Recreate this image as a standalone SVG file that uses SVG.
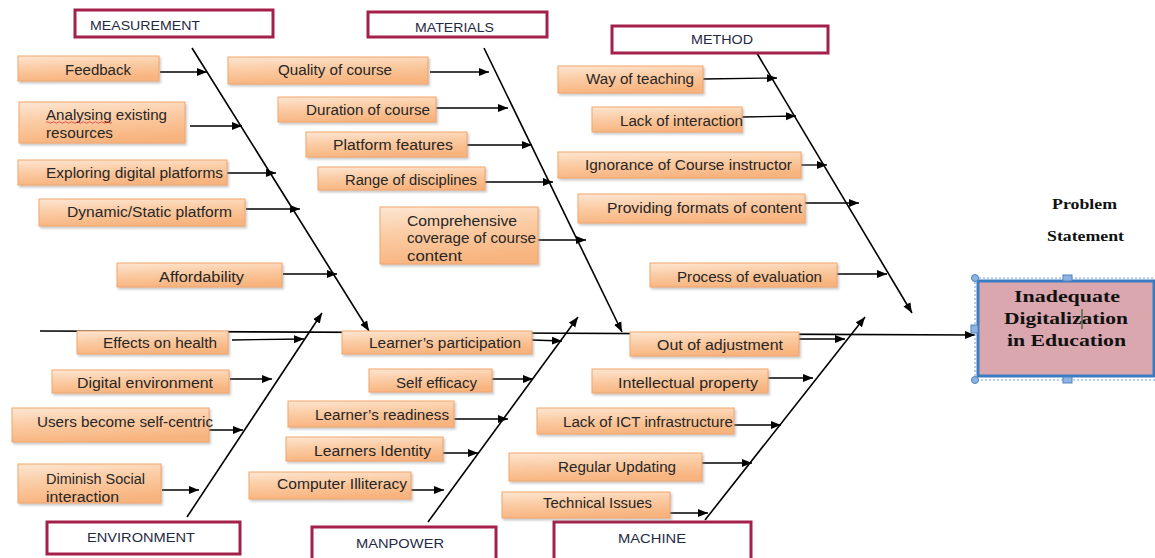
<svg xmlns="http://www.w3.org/2000/svg" width="1155" height="558" viewBox="0 0 1155 558">
<defs>
<linearGradient id="og" x1="0" y1="0" x2="0.25" y2="1">
<stop offset="0" stop-color="#FDE6D3"/>
<stop offset="0.45" stop-color="#FBCDA6"/>
<stop offset="1" stop-color="#F8B47F"/>
</linearGradient>
<filter id="sh" x="-5%" y="-10%" width="115%" height="140%">
<feDropShadow dx="1.5" dy="2" stdDeviation="1" flood-color="#8a8a8a" flood-opacity="0.45"/>
</filter>
<marker id="ah" markerUnits="userSpaceOnUse" markerWidth="11" markerHeight="9" refX="10" refY="4.5" orient="auto">
<path d="M0,0.5 L10,4.5 L0,8.5 z" fill="#000"/>
</marker>
<style>
.cat{fill:#fff;stroke:#A3204A;stroke-width:3}
.ct{font-family:"Liberation Sans",Arial,sans-serif;font-size:13px;fill:#1F2A44}
.bx{fill:url(#og);stroke:#F3A66A;stroke-width:1;filter:url(#sh)}
.t{font-family:"Liberation Sans",Arial,sans-serif;font-size:14px;fill:#262626}
.ln{stroke:#000;stroke-width:1.3;fill:none;marker-end:url(#ah)}
.bn{stroke:#000;stroke-width:1.6;fill:none;marker-end:url(#ah)}
.pt{font-family:"Liberation Serif","Times New Roman",serif;font-weight:bold;fill:#111}
</style>
</defs>
<rect width="1155" height="558" fill="#fff"/>

<g id="connectors">
<line class="bn" x1="40" y1="331" x2="975" y2="335"/>
<line class="bn" x1="192" y1="48" x2="369" y2="331"/>
<line class="bn" x1="484" y1="48" x2="622" y2="332"/>
<line class="bn" x1="755" y1="50" x2="912" y2="313"/>
<line class="bn" x1="187" y1="517" x2="322" y2="313"/>
<line class="bn" x1="428" y1="522" x2="578" y2="317"/>
<line class="bn" x1="705" y1="520" x2="865" y2="317"/>
<line class="ln" x1="160" y1="72" x2="207" y2="72"/>
<line class="ln" x1="190" y1="126" x2="242" y2="126"/>
<line class="ln" x1="227" y1="173" x2="276" y2="173"/>
<line class="ln" x1="246" y1="209" x2="300" y2="209"/>
<line class="ln" x1="283" y1="274" x2="337" y2="274"/>
<line class="ln" x1="430" y1="72" x2="489" y2="72"/>
<line class="ln" x1="436" y1="108" x2="508" y2="108"/>
<line class="ln" x1="467" y1="145" x2="532" y2="145"/>
<line class="ln" x1="485" y1="182" x2="553" y2="182"/>
<line class="ln" x1="538" y1="240" x2="586" y2="240"/>
<line class="ln" x1="703" y1="79" x2="777" y2="78"/>
<line class="ln" x1="742" y1="117" x2="796" y2="116"/>
<line class="ln" x1="801" y1="165" x2="827" y2="165"/>
<line class="ln" x1="805" y1="203" x2="859" y2="203"/>
<line class="ln" x1="837" y1="274" x2="887" y2="274"/>
<line class="ln" x1="232" y1="340" x2="304" y2="339"/>
<line class="ln" x1="230" y1="379" x2="272" y2="379"/>
<line class="ln" x1="209" y1="430" x2="243" y2="430"/>
<line class="ln" x1="162" y1="490" x2="199" y2="490"/>
<line class="ln" x1="532" y1="340" x2="562" y2="341"/>
<line class="ln" x1="492" y1="379" x2="533" y2="379"/>
<line class="ln" x1="454" y1="419" x2="508" y2="419"/>
<line class="ln" x1="443" y1="453" x2="478" y2="453"/>
<line class="ln" x1="411" y1="490" x2="444" y2="490"/>
<line class="ln" x1="799" y1="339" x2="845" y2="339"/>
<line class="ln" x1="768" y1="378" x2="813" y2="378"/>
<line class="ln" x1="734" y1="425" x2="781" y2="425"/>
<line class="ln" x1="702" y1="463" x2="752" y2="463"/>
<line class="ln" x1="670" y1="513" x2="708" y2="513"/>
</g>

<g id="cat-measurement"><rect class="cat" x="75" y="10" width="198" height="27"/><text class="ct" x="90" y="30" textLength="110" lengthAdjust="spacingAndGlyphs">MEASUREMENT</text></g>
<g id="cat-materials"><rect class="cat" x="368" y="12" width="179" height="25"/><text class="ct" x="415" y="31.5" textLength="79" lengthAdjust="spacingAndGlyphs">MATERIALS</text></g>
<g id="cat-method"><rect class="cat" x="612" y="26" width="216" height="27"/><text class="ct" x="691" y="44" textLength="62" lengthAdjust="spacingAndGlyphs">METHOD</text></g>
<g id="cat-environment"><rect class="cat" x="47" y="522" width="193" height="32"/><text class="ct" x="87" y="541.5" textLength="108" lengthAdjust="spacingAndGlyphs">ENVIRONMENT</text></g>
<g id="cat-manpower"><rect class="cat" x="312" y="527" width="184" height="36"/><text class="ct" x="356" y="547.5" textLength="88" lengthAdjust="spacingAndGlyphs">MANPOWER</text></g>
<g id="cat-machine"><rect class="cat" x="554" y="522" width="197" height="40"/><text class="ct" x="618" y="542.5" textLength="68" lengthAdjust="spacingAndGlyphs">MACHINE</text></g>

<g id="n-feedback"><rect class="bx" x="18" y="56" width="141" height="25"/><text class="t" x="65" y="75" textLength="66" lengthAdjust="spacingAndGlyphs">Feedback</text></g>
<g id="n-analysing"><rect class="bx" x="19" y="102" width="166" height="41"/><text class="t" x="46" y="120" textLength="121" lengthAdjust="spacingAndGlyphs">Analysing existing</text><text class="t" x="46" y="138" textLength="67" lengthAdjust="spacingAndGlyphs">resources</text><path d="M46,122.5 q1.5,-1.5 3,0 t3,0 t3,0 t3,0 t3,0 t3,0 t3,0 t3,0 t3,0 t3,0 t3,0 t3,0 t3,0 t3,0 t3,0 t3,0 t3,0 t3,0 t3,0 t3,0 t3,0 t3,0" fill="none" stroke="#E03030" stroke-width="0.8"/></g>
<g id="n-exploring"><rect class="bx" x="18" y="160" width="209" height="25"/><text class="t" x="46" y="178" textLength="177" lengthAdjust="spacingAndGlyphs">Exploring digital platforms</text></g>
<g id="n-dynamic"><rect class="bx" x="39" y="199" width="206" height="27"/><text class="t" x="67" y="217" textLength="165" lengthAdjust="spacingAndGlyphs">Dynamic/Static platform</text></g>
<g id="n-affordability"><rect class="bx" x="117" y="263" width="165" height="24"/><text class="t" x="159" y="282" textLength="85" lengthAdjust="spacingAndGlyphs">Affordability</text></g>

<g id="n-quality"><rect class="bx" x="228" y="57" width="200" height="27"/><text class="t" x="278" y="75" textLength="114" lengthAdjust="spacingAndGlyphs">Quality of course</text></g>
<g id="n-duration"><rect class="bx" x="278" y="97" width="158" height="25"/><text class="t" x="306" y="115" textLength="124" lengthAdjust="spacingAndGlyphs">Duration of course</text></g>
<g id="n-platform"><rect class="bx" x="306" y="132" width="161" height="25"/><text class="t" x="333" y="150" textLength="120" lengthAdjust="spacingAndGlyphs">Platform features</text></g>
<g id="n-range"><rect class="bx" x="318" y="167" width="167" height="23"/><text class="t" x="345" y="185" textLength="132" lengthAdjust="spacingAndGlyphs">Range of disciplines</text></g>
<g id="n-comprehensive"><rect class="bx" x="380" y="207" width="158" height="57"/><text class="t" x="407" y="226" textLength="110" lengthAdjust="spacingAndGlyphs">Comprehensive</text><text class="t" x="407" y="243" textLength="129" lengthAdjust="spacingAndGlyphs">coverage of course</text><text class="t" x="407" y="261" textLength="55" lengthAdjust="spacingAndGlyphs">content</text></g>

<g id="n-way"><rect class="bx" x="558" y="66" width="145" height="27"/><text class="t" x="586" y="84" textLength="108" lengthAdjust="spacingAndGlyphs">Way of teaching</text></g>
<g id="n-lackinteraction"><rect class="bx" x="592" y="107" width="150" height="25"/><text class="t" x="620" y="126" textLength="123" lengthAdjust="spacingAndGlyphs">Lack of interaction</text></g>
<g id="n-ignorance"><rect class="bx" x="558" y="152" width="243" height="26"/><text class="t" x="585" y="170" textLength="207" lengthAdjust="spacingAndGlyphs">Ignorance of Course instructor</text></g>
<g id="n-providing"><rect class="bx" x="578" y="194" width="227" height="29"/><text class="t" x="607" y="213" textLength="195" lengthAdjust="spacingAndGlyphs">Providing formats of content</text></g>
<g id="n-process"><rect class="bx" x="650" y="263" width="187" height="24"/><text class="t" x="677" y="282" textLength="145" lengthAdjust="spacingAndGlyphs">Process of evaluation</text></g>

<g id="n-effects"><rect class="bx" x="77" y="331" width="151" height="23"/><text class="t" x="103" y="348" textLength="114" lengthAdjust="spacingAndGlyphs">Effects on health</text></g>
<g id="n-digitalenv"><rect class="bx" x="52" y="370" width="177" height="23"/><text class="t" x="77" y="388" textLength="136" lengthAdjust="spacingAndGlyphs">Digital environment</text></g>
<g id="n-users"><rect class="bx" x="12" y="408" width="197" height="34"/><text class="t" x="37" y="427" textLength="176" lengthAdjust="spacingAndGlyphs">Users become self-centric</text></g>
<g id="n-diminish"><rect class="bx" x="18" y="464" width="143" height="39"/><text class="t" x="46" y="484" textLength="99" lengthAdjust="spacingAndGlyphs">Diminish Social</text><text class="t" x="46" y="502" textLength="73" lengthAdjust="spacingAndGlyphs">interaction</text></g>

<g id="n-participation"><rect class="bx" x="342" y="331" width="190" height="23"/><text class="t" x="369" y="348" textLength="152" lengthAdjust="spacingAndGlyphs">Learner’s participation</text></g>
<g id="n-selfefficacy"><rect class="bx" x="369" y="369" width="123" height="23"/><text class="t" x="396" y="388" textLength="81" lengthAdjust="spacingAndGlyphs">Self efficacy</text></g>
<g id="n-readiness"><rect class="bx" x="288" y="401" width="166" height="26"/><text class="t" x="315" y="420" textLength="134" lengthAdjust="spacingAndGlyphs">Learner’s readiness</text></g>
<g id="n-identity"><rect class="bx" x="286" y="437" width="157" height="24"/><text class="t" x="314" y="456" textLength="117" lengthAdjust="spacingAndGlyphs">Learners Identity</text></g>
<g id="n-illiteracy"><rect class="bx" x="249" y="472" width="162" height="27"/><text class="t" x="277" y="489" textLength="130" lengthAdjust="spacingAndGlyphs">Computer Illiteracy</text></g>

<g id="n-outofadj"><rect class="bx" x="630" y="332" width="169" height="24"/><text class="t" x="657" y="350" textLength="126" lengthAdjust="spacingAndGlyphs">Out of adjustment</text></g>
<g id="n-intellectual"><rect class="bx" x="592" y="369" width="176" height="24"/><text class="t" x="618" y="388" textLength="140" lengthAdjust="spacingAndGlyphs">Intellectual property</text></g>
<g id="n-ict"><rect class="bx" x="537" y="408" width="197" height="26"/><text class="t" x="563" y="427" textLength="170" lengthAdjust="spacingAndGlyphs">Lack of ICT infrastructure</text></g>
<g id="n-updating"><rect class="bx" x="509" y="453" width="193" height="28"/><text class="t" x="558" y="472" textLength="118" lengthAdjust="spacingAndGlyphs">Regular Updating</text></g>
<g id="n-technical"><rect class="bx" x="502" y="492" width="168" height="26"/><text class="t" x="543" y="508" textLength="109" lengthAdjust="spacingAndGlyphs">Technical Issues</text></g>

<g id="problem-label">
<text class="pt" x="1052" y="209" font-size="14" textLength="65" lengthAdjust="spacingAndGlyphs">Problem</text>
<text class="pt" x="1047" y="240.5" font-size="14" textLength="77" lengthAdjust="spacingAndGlyphs">Statement</text>
</g>

<g id="problem">
<rect x="975" y="278" width="185" height="102" fill="none" stroke="#6F9FD6" stroke-width="1" stroke-dasharray="2,2"/>
<rect x="978" y="281" width="176" height="95" fill="#D9A7AD" stroke="#3A7CC3" stroke-width="3"/>
<text class="pt" x="1014" y="302" font-size="16" textLength="106" lengthAdjust="spacingAndGlyphs">Inadequate</text>
<text class="pt" x="1004" y="324" font-size="16" textLength="124" lengthAdjust="spacingAndGlyphs">Digitalization</text>
<text class="pt" x="1007" y="345.5" font-size="16" textLength="119" lengthAdjust="spacingAndGlyphs">in Education</text>
<line x1="1082" y1="309" x2="1082" y2="329" stroke="#2F5A35" stroke-width="1.2"/>
<circle cx="975" cy="278" r="3.5" fill="#8DB3E2" stroke="#4F81BD" stroke-width="1"/>
<circle cx="975" cy="380" r="3.5" fill="#8DB3E2" stroke="#4F81BD" stroke-width="1"/>
<rect x="1063" y="275" width="9" height="6" fill="#8DB3E2" stroke="#4F81BD" stroke-width="1"/>
<rect x="1063" y="377" width="9" height="6" fill="#8DB3E2" stroke="#4F81BD" stroke-width="1"/>
<rect x="971" y="325" width="7" height="8" fill="#8DB3E2" stroke="#4F81BD" stroke-width="1"/>
</g>
</svg>
